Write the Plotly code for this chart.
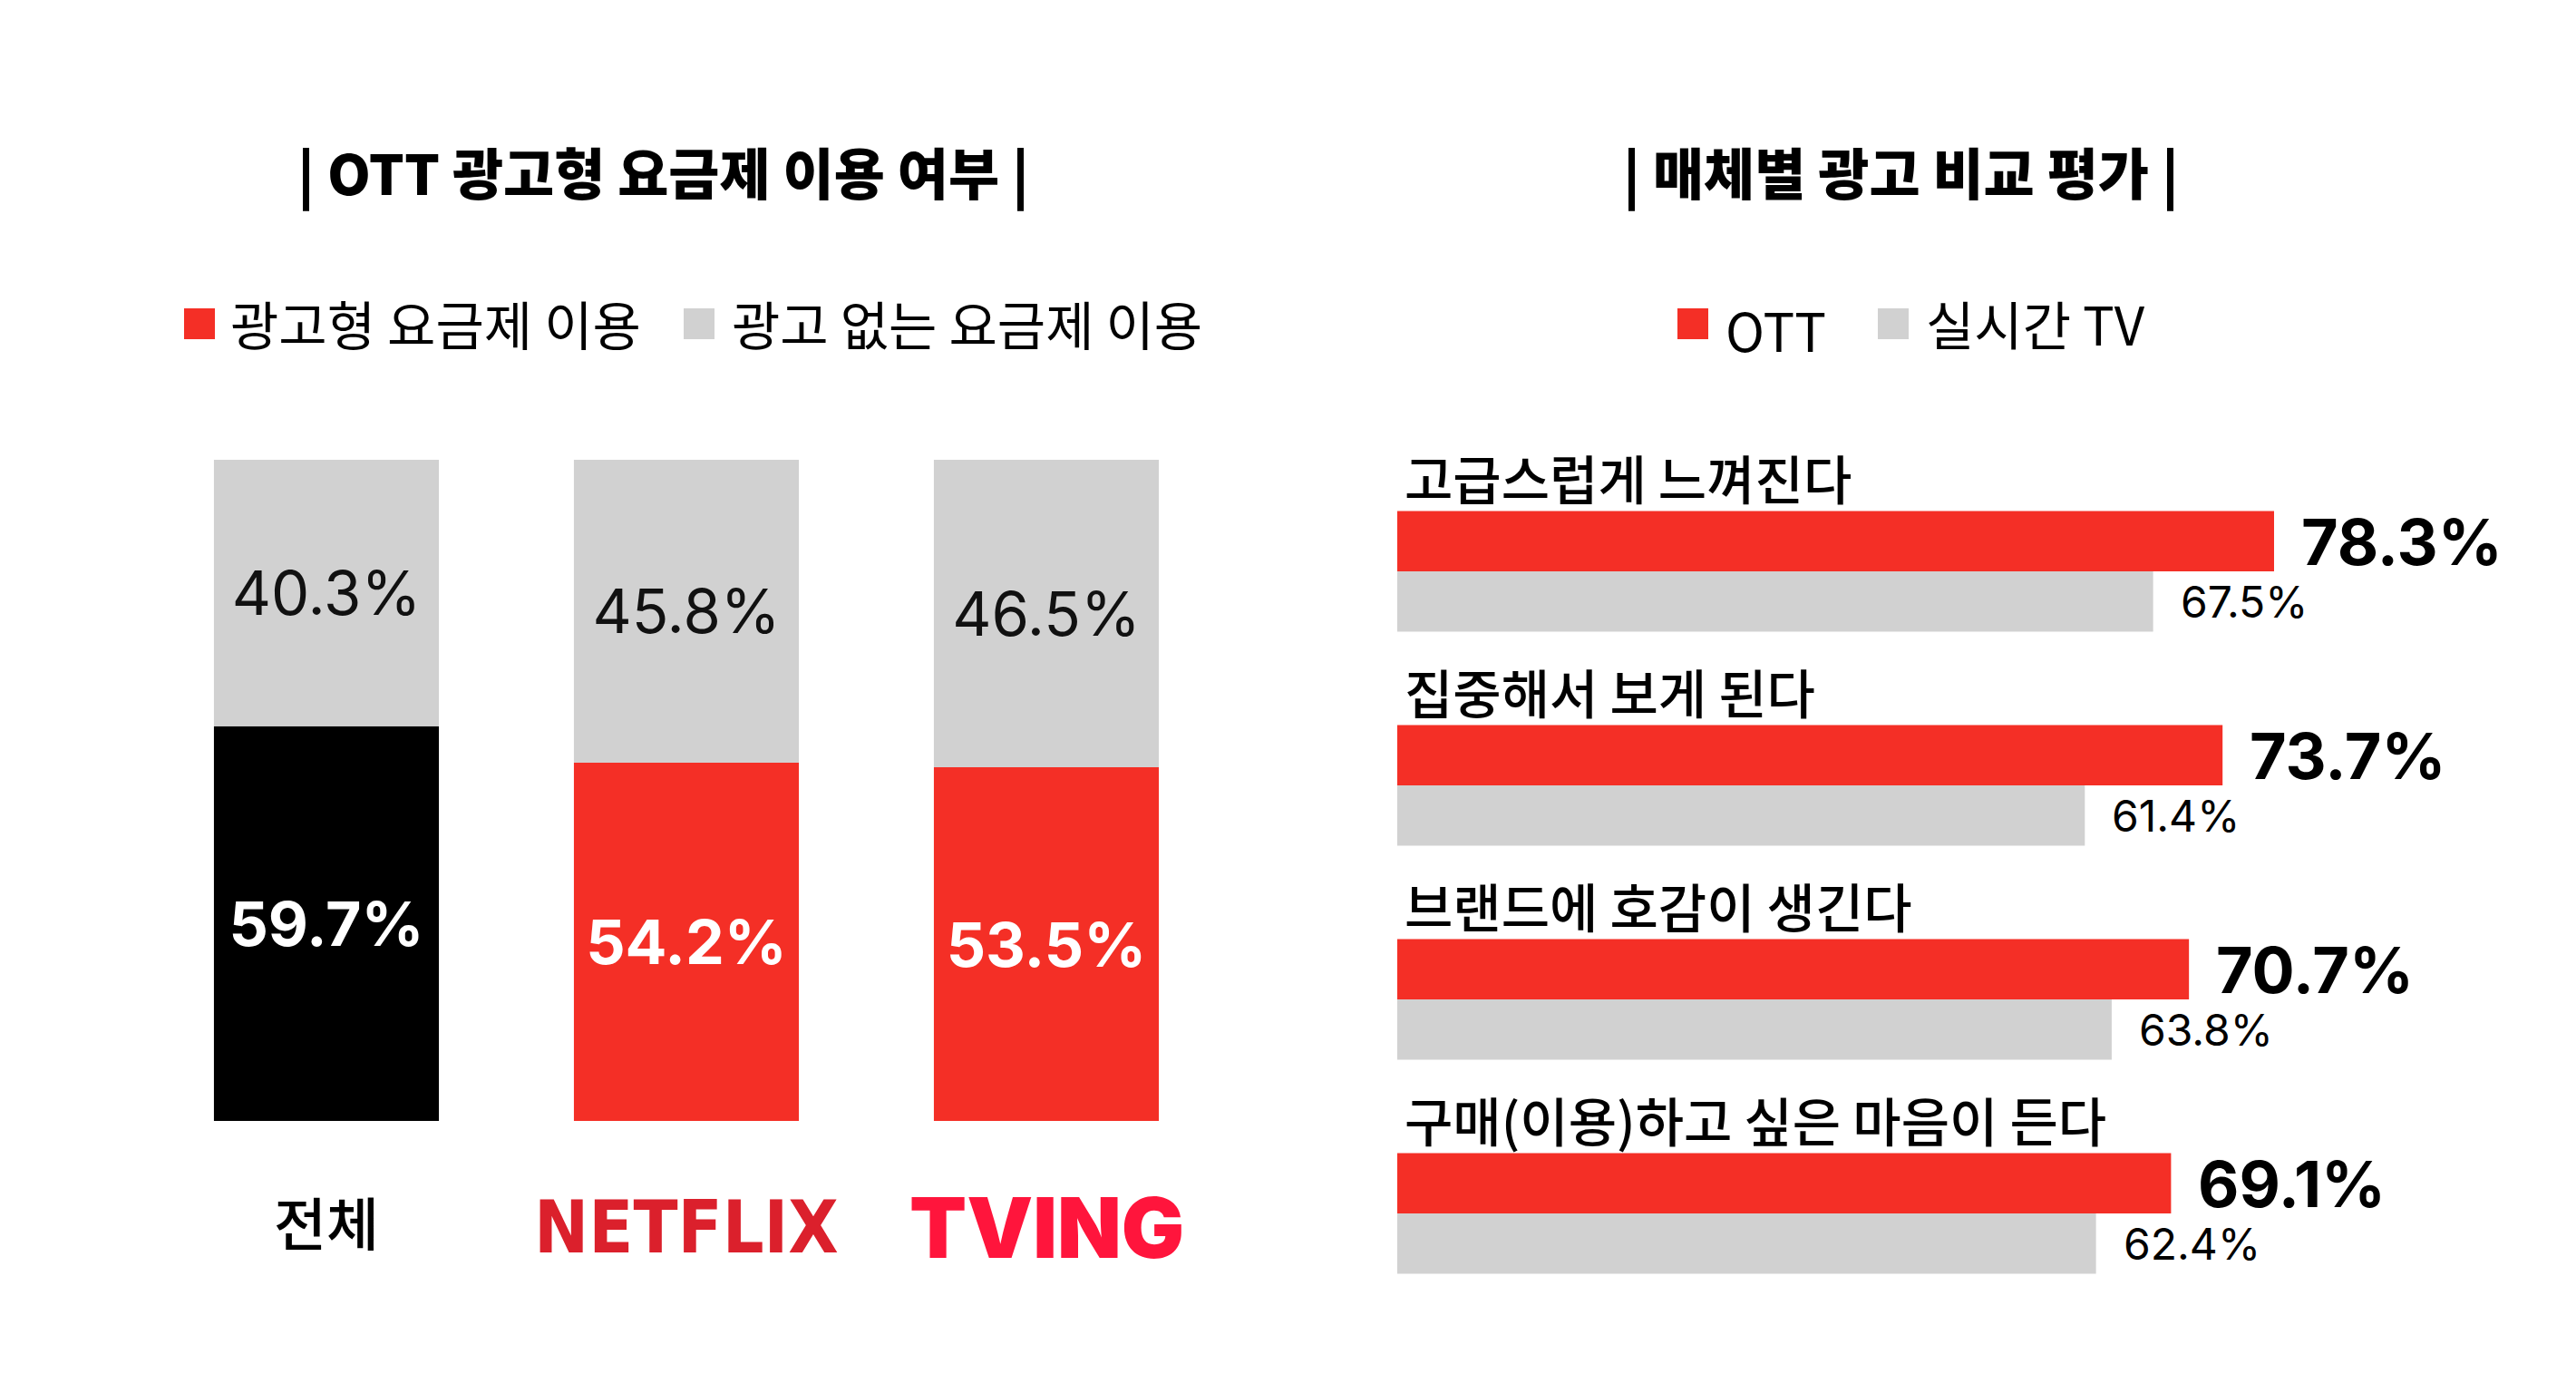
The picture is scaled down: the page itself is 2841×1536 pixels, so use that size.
import plotly.graph_objects as go

# ---------------- data ----------------
plan_categories = ["전체", "NETFLIX", "TVING"]
ad_plan_pct = [59.7, 54.2, 53.5]
no_ad_plan_pct = [40.3, 45.8, 46.5]
plan_series_names = ["광고형 요금제 이용", "광고 없는 요금제 이용"]

eval_categories = ["고급스럽게 느껴진다", "집중해서 보게 된다", "브랜드에 호감이 생긴다", "구매(이용)하고 싶은 마음이 든다"]
ott_pct = [78.3, 73.7, 70.7, 69.1]
live_tv_pct = [67.5, 61.4, 63.8, 62.4]
eval_series_names = ["OTT", "실시간 TV"]

left_title = "| OTT 광고형 요금제 이용 여부 |"
right_title = "| 매체별 광고 비교 평가 |"

# ---------------- style ----------------
W, H = 2841, 1536
RED = "#F42F26"
GRAY = "#D1D1D1"
BLACK = "#000000"
NETFLIX_RED = "#DB202C"
TVING_RED = "#FF153C"
KR = "'Noto Sans CJK KR', sans-serif"
KR_MED = "'Noto Sans CJK KR Medium', 'Noto Sans CJK KR', sans-serif"
KR_BLACK = "'Noto Sans CJK KR Black', 'Noto Sans CJK KR', sans-serif"
NUM = "Inter, 'Noto Sans CJK KR', sans-serif"


def fx(p):
    return p / W


def fy(p):
    return 1 - p / H


fig = go.Figure()

# ---------- left: stacked 100% bars ----------
bottom_colors = [BLACK, RED, RED]
fig.add_trace(go.Bar(
    x=plan_categories, y=ad_plan_pct, base=[0] * len(ad_plan_pct),
    name=plan_series_names[0], width=0.625,
    marker=dict(color=bottom_colors, line=dict(width=0)),
    text=[f"{v:.1f}%" for v in ad_plan_pct], textposition="inside",
    insidetextanchor="middle", textangle=0, constraintext="none",
    insidetextfont=dict(family=NUM, size=68, color="white", weight="bold"),
    xaxis="x", yaxis="y", showlegend=False, hoverinfo="skip",
))
fig.add_trace(go.Bar(
    x=plan_categories, y=no_ad_plan_pct, base=ad_plan_pct,
    name=plan_series_names[1], width=0.625,
    marker=dict(color=GRAY, line=dict(width=0)),
    text=[f"{v:.1f}%" for v in no_ad_plan_pct], textposition="inside",
    insidetextanchor="middle", textangle=0, constraintext="none",
    insidetextfont=dict(family=NUM, size=67, color="#111111"),
    xaxis="x", yaxis="y", showlegend=False, hoverinfo="skip",
))

# ---------- right: grouped horizontal bars ----------
BW = 0.2818
fig.add_trace(go.Bar(
    y=eval_categories, x=ott_pct, orientation="h", name=eval_series_names[0],
    width=BW, offset=-BW, marker=dict(color=RED, line=dict(width=0)),
    xaxis="x2", yaxis="y2", showlegend=False, hoverinfo="skip",
))
fig.add_trace(go.Bar(
    y=eval_categories, x=live_tv_pct, orientation="h", name=eval_series_names[1],
    width=BW, offset=0, marker=dict(color=GRAY, line=dict(width=0)),
    xaxis="x2", yaxis="y2", showlegend=False, hoverinfo="skip",
))

annotations = []
# titles
annotations.append(dict(text=left_title, x=fx(731), y=fy(188), xref="paper", yref="paper",
                        xanchor="center", yanchor="middle", showarrow=False,
                        font=dict(family=KR_BLACK, size=61, color=BLACK, weight=900)))
annotations.append(dict(text=right_title, x=fx(2096), y=fy(188), xref="paper", yref="paper",
                        xanchor="center", yanchor="middle", showarrow=False,
                        font=dict(family=KR_BLACK, size=61, color=BLACK, weight=900)))

# legends (square swatches + labels)
shapes = []
legend_items = [
    (203, RED, 252, plan_series_names[0], 356),
    (754, GRAY, 805, plan_series_names[1], 356),
    (1850, RED, 1901, eval_series_names[0], 363),
    (2071, GRAY, 2122, eval_series_names[1], 356),
]
for sq_x, col, tx, label, ty in legend_items:
    shapes.append(dict(type="rect", xref="paper", yref="paper",
                       x0=fx(sq_x), x1=fx(sq_x + 34), y0=fy(374), y1=fy(340),
                       fillcolor=col, line=dict(width=0)))
    annotations.append(dict(text=label, x=fx(tx), y=fy(ty), xref="paper", yref="paper",
                            xanchor="left", yanchor="middle", showarrow=False,
                            font=dict(family=KR, size=58, color=BLACK)))

# left category labels (logos as styled text)
cat_styles = [
    dict(family=KR_MED, size=63, color=BLACK, weight=500),
    dict(family="'Liberation Sans Narrow', 'DejaVu Sans Condensed', 'Liberation Sans', sans-serif", size=80,
         color=NETFLIX_RED, weight="bold"),
    dict(family="Inter, Roboto, sans-serif", size=92, color=TVING_RED, weight=900),
]
cat_shifts = [-109, -117, -117]
for cat, st, sh in zip(plan_categories, cat_styles, cat_shifts):
    annotations.append(dict(text=cat, x=cat, y=0, xref="x", yref="y", yshift=sh,
                            xanchor="center", yanchor="middle", showarrow=False, font=st))

# right category labels
for cat in eval_categories:
    annotations.append(dict(text=cat, x=0, y=cat, xref="x2", yref="y2", xshift=6, yshift=104,
                            xanchor="left", yanchor="middle", showarrow=False,
                            font=dict(family=KR_MED, size=58, color=BLACK, weight=500)))

# right value labels
for cat, v in zip(eval_categories, ott_pct):
    annotations.append(dict(text=f"{v:.1f}%", x=v, y=cat, xref="x2", yref="y2", xshift=28, yshift=33,
                            xanchor="left", yanchor="middle", showarrow=False,
                            font=dict(family=NUM, size=70, color=BLACK, weight="bold")))
for cat, v in zip(eval_categories, live_tv_pct):
    annotations.append(dict(text=f"{v:.1f}%", x=v, y=cat, xref="x2", yref="y2", xshift=28, yshift=-33,
                            xanchor="left", yanchor="middle", showarrow=False,
                            font=dict(family=NUM, size=48, color=BLACK)))

hidden = dict(showticklabels=False, showgrid=False, zeroline=False, showline=False, ticks="")

fig.update_layout(
    width=W, height=H, autosize=False,
    margin=dict(l=0, r=0, t=0, b=0, pad=0),
    paper_bgcolor="white", plot_bgcolor="white",
    barmode="overlay", showlegend=False,
    xaxis=dict(domain=[fx(161.5), fx(1352.5)], range=[-0.5, 2.5], type="category", **hidden),
    yaxis=dict(domain=[fy(1236), fy(507)], range=[0, 100], **hidden),
    xaxis2=dict(domain=[fx(1541), fx(2776)], range=[0, 100], anchor="y2", **hidden),
    yaxis2=dict(domain=[fy(1456), fy(417.6)], range=[3.5, -0.9], type="category", anchor="x2", **hidden),
    annotations=annotations,
    shapes=shapes,
    font=dict(family=KR, color=BLACK),
)

fig.write_html("out.html", config={"displayModeBar": False},
               post_script="document.body.style.margin='0';document.body.style.overflow='hidden';")
